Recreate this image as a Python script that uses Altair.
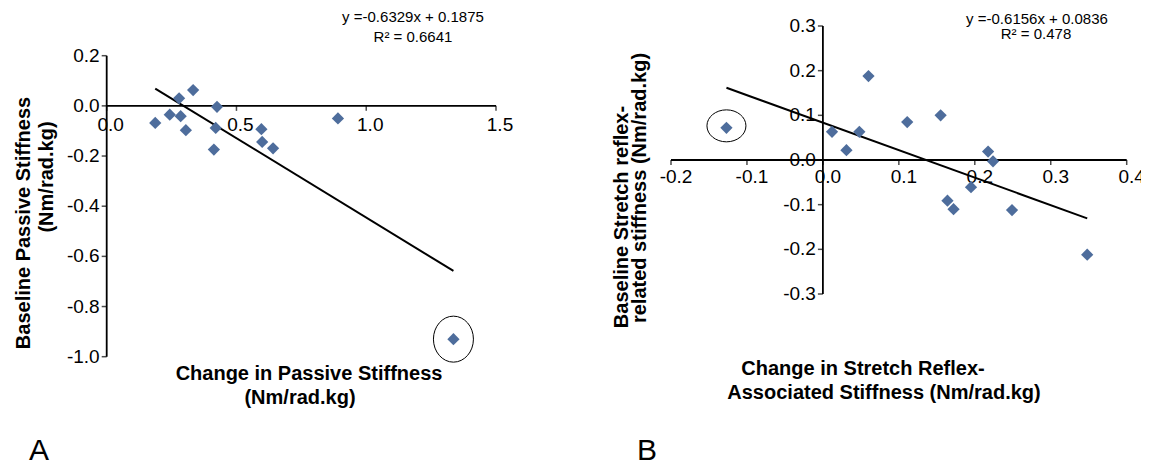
import altair as alt
import pandas as pd

# ---------------- data ----------------
# Panel A
a_x = [0.187, 0.243, 0.279, 0.285, 0.305, 0.333, 0.425, 0.420, 0.413, 0.596, 0.599, 0.641, 0.891, 1.336]
a_y = [-0.068, -0.035, 0.030, -0.041, -0.097, 0.063, -0.004, -0.088, -0.174, -0.093, -0.144, -0.169, -0.050, -0.930]
a_slope, a_intercept = -0.6329, 0.1875
a_outlier = 13
a_xticks = [0.0, 0.5, 1.0, 1.5]
a_yticks = [0.2, 0.0, -0.2, -0.4, -0.6, -0.8, -1.0]

# Panel B
b_x = [-0.127, 0.012, 0.031, 0.048, 0.060, 0.111, 0.155, 0.2175, 0.224, 0.195, 0.164, 0.172, 0.249, 0.348]
b_y = [0.072, 0.063, 0.022, 0.063, 0.188, 0.085, 0.100, 0.019, -0.003, -0.061, -0.091, -0.110, -0.112, -0.212]
b_slope, b_intercept = -0.6156, 0.0836
b_outlier = 0
b_xticks = [-0.2, -0.1, 0.0, 0.1, 0.2, 0.3, 0.4]
b_yticks = [0.3, 0.2, 0.1, 0.0, -0.1, -0.2, -0.3]

COLOR = "#4E6D9C"
FONT = "Liberation Sans"
W, H = 1133, 458


def ellipse_path(ry):
    k = 0.5523
    return (f"M1,0 C1,{k*ry:.4f} {k:.4f},{ry:.4f} 0,{ry:.4f} "
            f"C{-k:.4f},{ry:.4f} -1,{k*ry:.4f} -1,0 "
            f"C-1,{-k*ry:.4f} {-k:.4f},{-ry:.4f} 0,{-ry:.4f} "
            f"C{k:.4f},{-ry:.4f} 1,{-k*ry:.4f} 1,0 Z")


def fmt(v):
    s = f"{v:.1f}"
    return "0.0" if s == "-0.0" else s


def panel(xs, ys, slope, intercept, outlier, xticks, yticks, xrange, yrange,
          xlab_dx, xlab_dy, ell_ry, ell_size, ell_dy):
    xsc = alt.Scale(domain=[min(xticks), max(xticks)], range=xrange, nice=False, zero=False)
    ysc = alt.Scale(domain=[min(yticks), max(yticks)], range=yrange, nice=False, zero=False)

    def X(f="x"):
        return alt.X(f"{f}:Q", scale=xsc, axis=None)

    def Y(f="y"):
        return alt.Y(f"{f}:Q", scale=ysc, axis=None)

    xaxis_df = pd.DataFrame({"x": [min(xticks)], "x2": [max(xticks)], "y": [0.0]})
    yaxis_df = pd.DataFrame({"x": [0.0], "y": [min(yticks)], "y2": [max(yticks)]})
    xt_df = pd.DataFrame({"x": xticks, "y": [0.0] * len(xticks), "label": [fmt(v) for v in xticks]})
    yt_df = pd.DataFrame({"x": [0.0] * len(yticks), "y": yticks, "label": [fmt(v) for v in yticks]})
    pts_df = pd.DataFrame({"x": xs, "y": ys})
    lx = [min(xs), max(xs)]
    line_df = pd.DataFrame({"x": lx, "y": [slope * v + intercept for v in lx]})
    ell_df = pd.DataFrame({"x": [xs[outlier]], "y": [ys[outlier]]})

    xaxis = alt.Chart(xaxis_df).mark_rule(color="black", strokeWidth=1.8).encode(
        x=X(), x2="x2:Q", y=Y())
    yaxis = alt.Chart(yaxis_df).mark_rule(color="black", strokeWidth=1.8).encode(
        x=X(), y=Y(), y2="y2:Q")
    xtick = alt.Chart(xt_df).mark_tick(orient="vertical", size=5, thickness=1.5,
                                       color="black", yOffset=2.5).encode(x=X(), y=Y())
    ytick = alt.Chart(yt_df).mark_tick(orient="horizontal", size=5, thickness=1.5,
                                       color="black", xOffset=-2.5).encode(x=X(), y=Y())
    xlab = alt.Chart(xt_df).mark_text(font=FONT, fontSize=19, color="black", align="center",
                                      baseline="middle", dx=xlab_dx, dy=xlab_dy).encode(
        x=X(), y=Y(), text="label:N")
    ylab = alt.Chart(yt_df).mark_text(font=FONT, fontSize=19, color="black", align="right",
                                      baseline="middle", dx=-7).encode(
        x=X(), y=Y(), text="label:N")
    trend = alt.Chart(line_df).mark_line(color="black", strokeWidth=2).encode(x=X(), y=Y())
    pts = alt.Chart(pts_df).mark_point(shape="diamond", filled=True, size=150, color=COLOR,
                                       opacity=1).encode(x=X(), y=Y())
    ell = alt.Chart(ell_df).mark_point(shape=ellipse_path(ell_ry), filled=False, size=ell_size,
                                       stroke="black", strokeWidth=1, opacity=1,
                                       yOffset=ell_dy).encode(x=X(), y=Y())
    return alt.layer(xaxis, yaxis, xtick, ytick, xlab, ylab, trend, pts, ell)


left = panel(a_x, a_y, a_slope, a_intercept, a_outlier, a_xticks, a_yticks,
             xrange=[98.7, 488.0], yrange=[348.7, 47.7],
             xlab_dx=4, xlab_dy=19, ell_ry=1.15, ell_size=1600, ell_dy=0)
right = panel(b_x, b_y, b_slope, b_intercept, b_outlier, b_xticks, b_yticks,
              xrange=[663.0, 1118.7], yrange=[286.0, 18.0],
              xlab_dx=5, xlab_dy=17, ell_ry=0.82, ell_size=1521, ell_dy=-2)

# ---------------- annotation texts ----------------
eq_text = ["y =-0.6329x + 0.1875", "R\u00b2 = 0.6641", "y =-0.6156x + 0.0836", "R\u00b2 = 0.478"]
eq_px = [405, 405, 1029, 1028]
eq_py = [9, 29, 11, 26]

xt_text = ["Change in Passive Stiffness", "(Nm/rad.kg)",
           "Change in Stretch Reflex-", "Associated Stiffness (Nm/rad.kg)"]
xt_px = [301, 292, 855, 876]
xt_py = [366, 390, 361, 385]

yt_text = ["Baseline Passive Stiffness", "(Nm/rad.kg)",
           "Baseline Stretch reflex-", "related stiffness (Nm/rad.kg)"]
yt_px = [16, 39, 614, 632]
yt_py = [215, 169, 209, 180]

panel_text = ["A", "B"]
panel_px = [31, 639]
panel_py = [452, 452]


def texts(txts, pxs, pys, **kw):
    layers = []
    for t, px, py in zip(txts, pxs, pys):
        layers.append(alt.Chart(pd.DataFrame({"t": [t]})).mark_text(font=FONT, color="black", **kw)
                      .encode(x=alt.value(px), y=alt.value(py), text="t:N"))
    return layers


ann = []
ann += texts(eq_text, eq_px, eq_py, fontSize=15, align="center", baseline="middle")
ann += texts(xt_text, xt_px, xt_py, fontSize=20, fontWeight="bold", align="center", baseline="middle")
ann += texts(yt_text, yt_px, yt_py, fontSize=20, fontWeight="bold", align="center",
             baseline="middle", angle=270)
ann += texts(panel_text, panel_px, panel_py, fontSize=30, align="center", baseline="alphabetic")

chart = alt.layer(left, right, *ann).resolve_scale(x="independent", y="independent").properties(
    width=W, height=H, autosize=alt.AutoSizeParams(type="none"), padding=0
).configure_view(stroke=None)

chart.save("out.html", embed_options={"renderer": "svg", "actions": False})
